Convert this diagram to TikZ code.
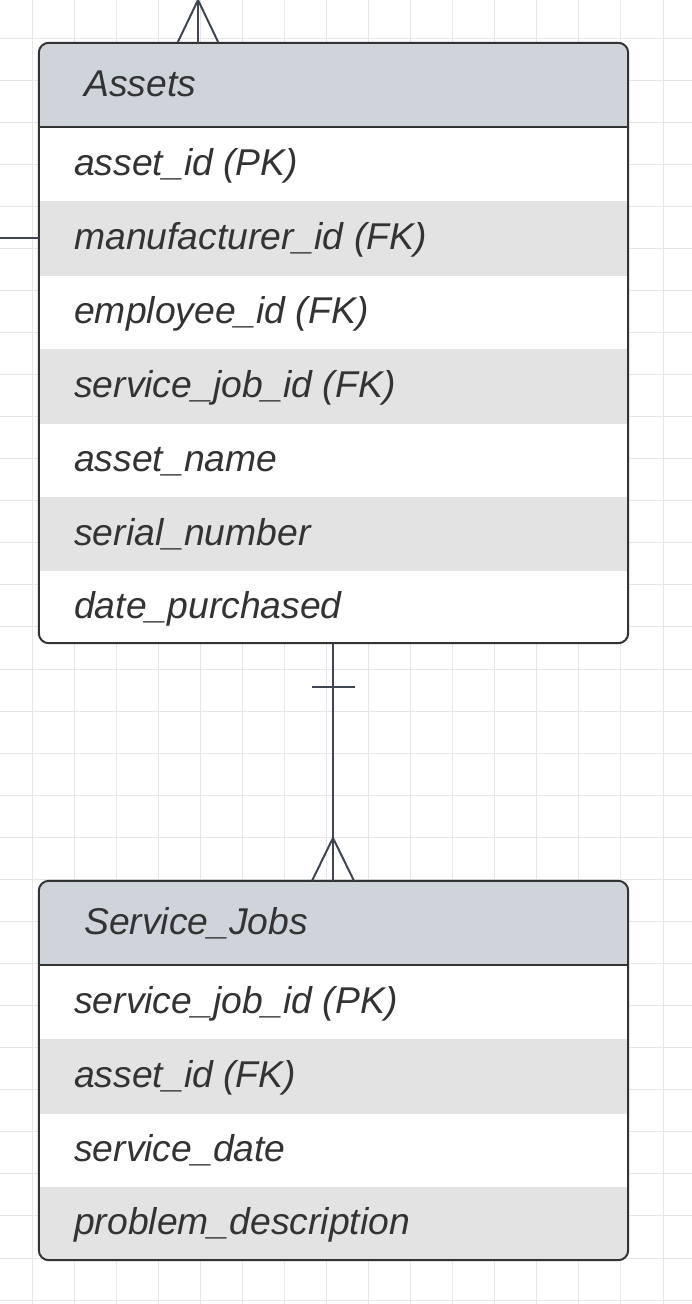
\documentclass[tikz,border=0pt]{standalone}
\usepackage{fontspec}
\setmainfont{Liberation Sans}
\begin{document}
\definecolor{gridc}{HTML}{E6E6E6}
\definecolor{headc}{HTML}{CFD4DB}
\definecolor{rowc}{HTML}{E3E3E3}
\definecolor{borderc}{HTML}{333333}
\definecolor{connc}{HTML}{3F4652}
\definecolor{textc}{HTML}{333333}
\begin{tikzpicture}[x=1pt,y=-1pt,
  gridline/.style={draw=gridc,line width=1pt},
  entity/.style={draw=none,inner sep=0pt,minimum width=589pt},
  border/.style={draw=borderc,line width=2pt,rounded corners=10pt},
  conn/.style={draw=connc,line width=2pt},
  field/.style={anchor=base west,inner sep=0pt,text=textc,font=\fontsize{37.3}{44}\selectfont\itshape}]
\useasboundingbox (0,0) rectangle (692,1304);
\fill[white] (0,0) rectangle (692,1304);
% grid
\foreach \k in {0,...,15} {\draw[gridline] ({32+42.07*\k},0) -- ({32+42.07*\k},1304);}
\foreach \k in {-1,...,30} {\draw[gridline] (0,{38+42.07*\k}) -- (692,{38+42.07*\k});}
% entity placeholders
\node[entity,minimum height=600pt] (assets) at (333.5,343) {};
\node[entity,minimum height=379pt] (jobs) at (333.5,1070.5) {};
% Assets box
\begin{scope}
\clip[rounded corners=10pt] (assets.north west) rectangle (assets.south east);
\fill[white] (assets.north west) rectangle (assets.south east);
\fill[headc] (39,43) rectangle (628,127);
\fill[rowc] (39,201) rectangle (628,276);
\fill[rowc] (39,349) rectangle (628,424);
\fill[rowc] (39,497) rectangle (628,571);
\end{scope}
\draw[borderc,line width=2pt] (39,127) -- (628,127);
\draw[border] (assets.north west) rectangle (assets.south east);
% Service_Jobs box
\begin{scope}
\clip[rounded corners=10pt] (jobs.north west) rectangle (jobs.south east);
\fill[white] (jobs.north west) rectangle (jobs.south east);
\fill[headc] (39,881) rectangle (628,965);
\fill[rowc] (39,1039) rectangle (628,1114);
\fill[rowc] (39,1187) rectangle (628,1260);
\end{scope}
\draw[borderc,line width=2pt] (39,965) -- (628,965);
\draw[border] (jobs.north west) rectangle (jobs.south east);
% texts
\node[field] (ah) at (84,96) {Assets};
\node[field] (a1) at (74,175) {asset\_id (PK)};
\node[field] (a2) at (74,249.5) {manufacturer\_id (FK)};
\node[field] (a3) at (74,323.5) {employee\_id (FK)};
\node[field] (a4) at (74,397.5) {service\_job\_id (FK)};
\node[field] (a5) at (74,471.5) {asset\_name};
\node[field] (a6) at (74,545) {serial\_number};
\node[field] (a7) at (74,618) {date\_purchased};
\node[field] (jh) at (84,934) {Service\_Jobs};
\node[field] (j1) at (74,1013) {service\_job\_id (PK)};
\node[field] (j2) at (74,1087.5) {asset\_id (FK)};
\node[field] (j3) at (74,1161.5) {service\_date};
\node[field] (j4) at (74,1234.5) {problem\_description};
% connectors
\coordinate (topend) at (198,0);
\coordinate (leftend) at (0,238);
\coordinate (mid) at (333,0);
\draw[conn] (topend) -- (assets.north -| topend);
\draw[conn] (topend) -- ([xshift=-20.5pt]assets.north -| topend);
\draw[conn] (topend) -- ([xshift=20.5pt]assets.north -| topend);
\draw[conn] (leftend) -- (assets.west |- leftend);
\draw[conn] (assets.south -| mid) -- (jobs.north -| mid);
\draw[conn] (312,687) -- (355,687);
\draw[conn] (333,838) -- ([xshift=-21pt]jobs.north -| mid);
\draw[conn] (333,838) -- ([xshift=21pt]jobs.north -| mid);
\end{tikzpicture}
\end{document}
